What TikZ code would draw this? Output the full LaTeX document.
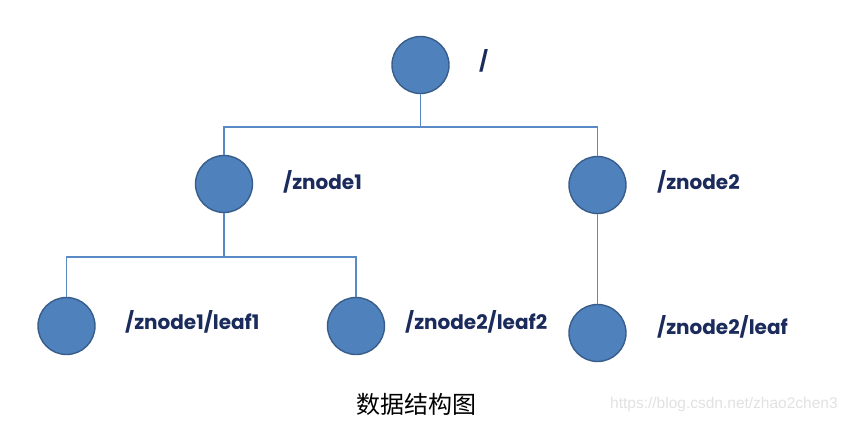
\documentclass[tikz,border=0pt]{standalone}
\usepackage{fontspec}
\setmainfont{Poppins}
\newfontfamily\cjk{Noto Sans CJK SC}
\newfontfamily\wm{Liberation Sans}
\definecolor{nodefill}{HTML}{4F81BD}
\definecolor{nodeedge}{HTML}{385D8A}
\definecolor{linkc}{HTML}{5A8AC6}
\definecolor{labelc}{HTML}{1A2B5C}
\definecolor{wmc}{HTML}{E2E2E2}
\begin{document}
\begin{tikzpicture}[x=1pt,y=-1pt,
  tnode/.style={circle,minimum size=57pt,inner sep=0pt,fill=nodefill,draw=nodeedge,line width=1.4pt},
  link/.style={draw=linkc,line width=1.3pt},
  lbl/.style={anchor=west,inner sep=0pt,text=labelc,font=\fontsize{20}{22}\selectfont\bfseries}]
\useasboundingbox[fill=white] (0,0) rectangle (852,423);
\node[tnode] (root) at (420.5,65) {};
\node[tnode] (n1) at (224,184) {};
\node[tnode] (n2) at (597.5,185) {};
\node[tnode] (l1) at (66.5,326) {};
\node[tnode] (l2) at (356,326) {};
\node[tnode] (l3) at (597.5,333) {};
\coordinate (hb) at (420.5,127);
\coordinate (hb1) at (224,257);
\draw[link] (root.south) -- (hb);
\draw[link] (n1.north) |- (hb) -| (n2.north);
\draw[link] (n1.south) -- (hb1);
\draw[link] (l1.north) |- (hb1) -| (l2.north);
\draw[link] (n2.south) -- (l3.north);
\node[lbl] (t0) at (479,61) {/};
\node[lbl] (t1) at (283,182) {/znode1};
\node[lbl] (t2) at (657,182) {/znode2};
\node[lbl] (t3) at (125,322) {/znode1/leaf1};
\node[lbl] (t4) at (405,322) {/znode2/leaf2};
\node[lbl] (t5) at (657,327) {/znode2/leaf};
\node[inner sep=0pt,font=\cjk\fontsize{24}{26}\selectfont] (cap) at (416,404) {数据结构图};
\node[anchor=west,inner sep=0pt,text=wmc,font=\wm\fontsize{15.5}{17}\selectfont] (wm) at (610,404) {https://blog.csdn.net/zhao2chen3};
\end{tikzpicture}
\end{document}
